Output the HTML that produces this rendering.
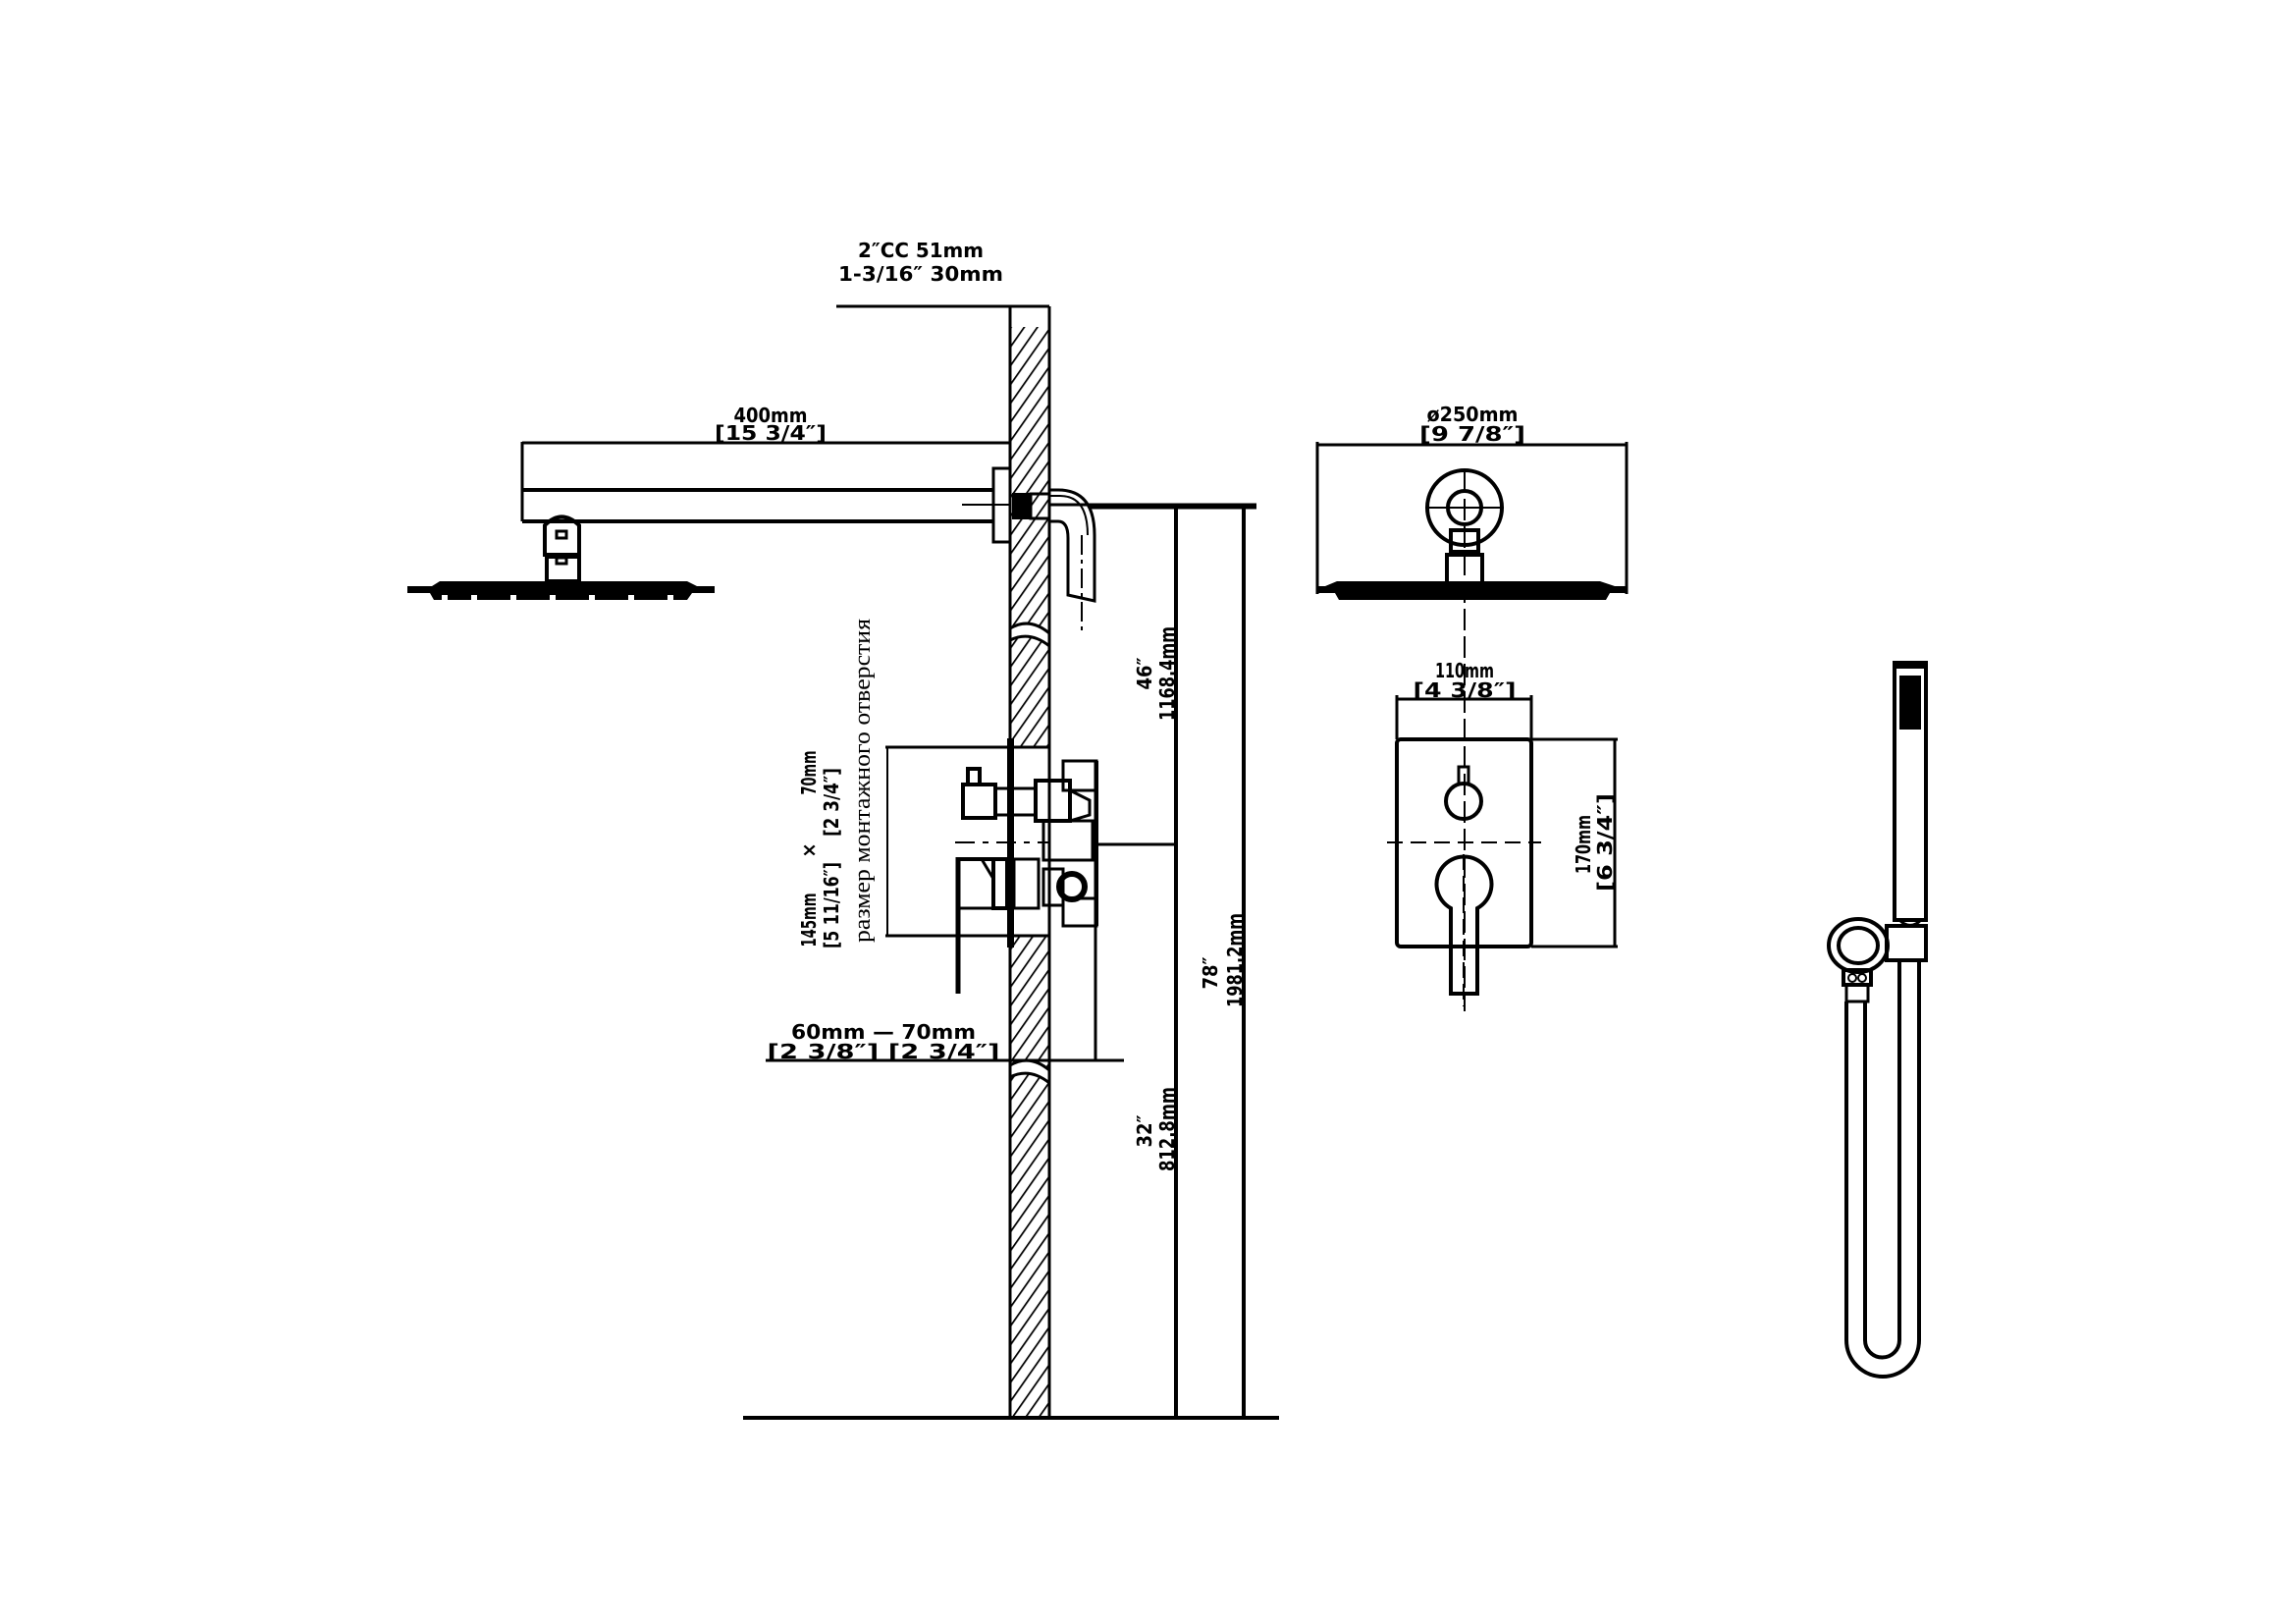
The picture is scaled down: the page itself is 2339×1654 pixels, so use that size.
<!DOCTYPE html>
<html><head><meta charset="utf-8"><style>
html,body{margin:0;padding:0;background:#fff}
svg{display:block}
text{font-family:"DejaVu Sans Condensed","Liberation Sans",sans-serif;font-weight:bold;fill:#000}
.s{stroke:#000;fill:none}
</style></head><body>
<svg width="2339" height="1654" viewBox="0 0 2339 1654" xmlns="http://www.w3.org/2000/svg">
<defs>
<pattern id="h" patternUnits="userSpaceOnUse" width="11" height="11" patternTransform="rotate(35)">
<rect width="11" height="11" fill="#fff"/><line x1="0" y1="0" x2="0" y2="11" stroke="#000" stroke-width="3.5"/>
</pattern>
</defs>
<g stroke-linecap="butt">
<!-- wall -->
<rect x="1029" y="333" width="40" height="1111" fill="url(#h)"/>
<path d="M1029 640 Q1049 628 1069 645 L1069 658 Q1049 642 1029 652 Z" fill="#fff"/>
<path d="M1029 1085 Q1049 1073 1069 1090 L1069 1103 Q1049 1087 1029 1097 Z" fill="#fff"/>
<rect x="1031" y="761" width="38" height="192" fill="#fff"/>
<line class="s" x1="1029" y1="312" x2="1029" y2="1444" stroke-width="3"/>
<line class="s" x1="1069" y1="312" x2="1069" y2="1444" stroke-width="3"/>
<path class="s" d="M1029 640 Q1049 628 1069 645 M1029 652 Q1049 642 1069 658 M1029 1085 Q1049 1073 1069 1090 M1029 1097 Q1049 1087 1069 1103" stroke-width="3"/>
<line class="s" x1="852" y1="312" x2="1069" y2="312" stroke-width="3"/>
<text x="938" y="262" font-size="20" text-anchor="middle" textLength="128" lengthAdjust="spacingAndGlyphs">2″CC 51mm</text>
<text x="938" y="286" font-size="20" text-anchor="middle" textLength="168" lengthAdjust="spacingAndGlyphs">1-3/16″ 30mm</text>
<!-- floor -->
<line class="s" x1="757" y1="1444" x2="1303" y2="1444" stroke-width="4"/>
<!-- arm -->
<line class="s" x1="532" y1="450" x2="532" y2="531" stroke-width="3"/>
<line class="s" x1="532" y1="451" x2="1029" y2="451" stroke-width="3"/>
<text x="785" y="430" font-size="20" text-anchor="middle" textLength="75" lengthAdjust="spacingAndGlyphs">400mm</text>
<text x="785" y="448" font-size="20" text-anchor="middle" textLength="114" lengthAdjust="spacingAndGlyphs">[15 3/4″]</text>
<path class="s" d="M532 499 H1012 M532 531 H1012" stroke-width="4"/>
<path class="s" d="M980 514 H1029" stroke-width="2"/>
<rect class="s" x="1012" y="477" width="17" height="75" stroke-width="3"/>
<rect x="1031" y="502" width="19" height="27" fill="#000"/>
<rect class="s" x="1050" y="503" width="19" height="25" stroke-width="3" fill="#fff"/>
<path class="s" d="M1069 499 H1078 Q1115 499 1115 545 V612 L1088 606 V548 Q1088 531 1078 531 H1069" stroke-width="3" fill="#fff"/>
<path class="s" d="M1069 505 H1080 Q1108 505 1108 545" stroke-width="2"/>
<line class="s" x1="1102" y1="545" x2="1102" y2="645" stroke-width="2" stroke-dasharray="20,5,4,5"/>
<line class="s" x1="1069" y1="514" x2="1280" y2="514" stroke-width="3"/>
<!-- shower head -->
<path d="M555 535 Q572 518 590 535 V565 H555 Z" class="s" stroke-width="4" fill="#fff"/>
<rect class="s" x="567" y="541" width="10" height="7" stroke-width="3"/>
<rect class="s" x="557" y="567" width="33" height="25" stroke-width="4"/>
<rect class="s" x="567" y="568" width="10" height="6" stroke-width="3"/>
<path d="M415 597 H440 L448 592 H700 L710 597 H728 V604 H415 Z" fill="#000"/>
<path d="M438 604 H705 L700 611 H442 Z" fill="#000"/>
<g fill="#fff"><rect x="450" y="606" width="6" height="6"/><rect x="480" y="606" width="6" height="6"/><rect x="520" y="606" width="6" height="6"/><rect x="560" y="606" width="6" height="6"/><rect x="600" y="606" width="6" height="6"/><rect x="640" y="606" width="6" height="6"/><rect x="680" y="606" width="6" height="6"/></g>
<!-- height dims -->
<line class="s" x1="1198" y1="517" x2="1198" y2="1444" stroke-width="4"/>
<line class="s" x1="1267" y1="517" x2="1267" y2="1444" stroke-width="4"/>
<line class="s" x1="1110" y1="517" x2="1280" y2="517" stroke-width="3"/>
<line class="s" x1="1117" y1="860" x2="1200" y2="860" stroke-width="3"/>
<line class="s" x1="1116" y1="775" x2="1116" y2="1080" stroke-width="3"/>
<text font-size="20" text-anchor="middle" transform="translate(1173,686) rotate(-90)">46″</text>
<text font-size="20" text-anchor="middle" transform="translate(1196,686) rotate(-90)" textLength="96" lengthAdjust="spacingAndGlyphs">1168.4mm</text>
<text font-size="20" text-anchor="middle" transform="translate(1173,1152) rotate(-90)">32″</text>
<text font-size="20" text-anchor="middle" transform="translate(1196,1150) rotate(-90)" textLength="86" lengthAdjust="spacingAndGlyphs">812.8mm</text>
<text font-size="20" text-anchor="middle" transform="translate(1240,991) rotate(-90)">78″</text>
<text font-size="20" text-anchor="middle" transform="translate(1265,978) rotate(-90)" textLength="96" lengthAdjust="spacingAndGlyphs">1981.2mm</text>
<!-- valve side -->
<line class="s" x1="902" y1="761" x2="1069" y2="761" stroke-width="3"/>
<line class="s" x1="902" y1="953" x2="1069" y2="953" stroke-width="3"/>
<line class="s" x1="904" y1="761" x2="904" y2="953" stroke-width="2"/>
<rect x="1026" y="752" width="7" height="213" fill="#000"/>
<rect class="s" x="981" y="799" width="33" height="34" stroke-width="4"/>
<rect class="s" x="986" y="783" width="12" height="16" stroke-width="4"/>
<rect class="s" x="1014" y="803" width="41" height="27" stroke-width="3"/>
<rect class="s" x="1055" y="795" width="35" height="41" stroke-width="4"/>
<rect class="s" x="1083" y="775" width="34" height="30" stroke-width="3"/>
<path class="s" d="M1090 805 L1110 815 V830 L1090 836" stroke-width="3"/>
<rect class="s" x="1063" y="836" width="50" height="40" stroke-width="3"/>
<rect class="s" x="1063" y="885" width="20" height="37" stroke-width="3"/>
<rect class="s" x="1083" y="915" width="34" height="28" stroke-width="3"/>
<line class="s" x1="1117" y1="775" x2="1117" y2="943" stroke-width="4"/>
<circle class="s" cx="1092" cy="903" r="13" stroke-width="6"/>
<line class="s" x1="973" y1="858" x2="1070" y2="858" stroke-width="2" stroke-dasharray="20,8,6,8"/>
<line class="s" x1="976" y1="873" x2="976" y2="1012" stroke-width="5"/>
<line class="s" x1="974" y1="875" x2="1026" y2="875" stroke-width="4"/>
<path class="s" d="M1000 875 L1012 895 V925 H976" stroke-width="3"/>
<rect class="s" x="1012" y="875" width="14" height="50" stroke-width="4"/>
<rect class="s" x="1033" y="875" width="25" height="50" stroke-width="3"/>
<line class="s" x1="780" y1="1080" x2="1145" y2="1080" stroke-width="3"/>
<text x="900" y="1058" font-size="20" text-anchor="middle" textLength="188" lengthAdjust="spacingAndGlyphs">60mm — 70mm</text>
<text x="900" y="1078" font-size="20" text-anchor="middle" textLength="237" lengthAdjust="spacingAndGlyphs">[2 3/8″] [2 3/4″]</text>
<text font-size="20" text-anchor="middle" transform="translate(831,937) rotate(-90)" textLength="55" lengthAdjust="spacingAndGlyphs">145mm</text>
<text font-size="20" text-anchor="middle" transform="translate(831,787) rotate(-90)" textLength="45" lengthAdjust="spacingAndGlyphs">70mm</text>
<text font-size="20" text-anchor="middle" transform="translate(831,866) rotate(-90)">×</text>
<text font-size="20" text-anchor="middle" transform="translate(854,922) rotate(-90)" textLength="88" lengthAdjust="spacingAndGlyphs">[5 11/16″]</text>
<text font-size="20" text-anchor="middle" transform="translate(854,817) rotate(-90)" textLength="70" lengthAdjust="spacingAndGlyphs">[2 3/4″]</text>
<text font-size="24" text-anchor="middle" style="font-family:'Liberation Serif',serif;font-weight:normal" transform="translate(886,795) rotate(-90)" textLength="330" lengthAdjust="spacingAndGlyphs">размер монтажного отверстия</text>
<!-- top view -->
<line class="s" x1="1342" y1="450" x2="1342" y2="605" stroke-width="3"/>
<line class="s" x1="1657" y1="450" x2="1657" y2="605" stroke-width="3"/>
<line class="s" x1="1342" y1="453" x2="1657" y2="453" stroke-width="3"/>
<text x="1500" y="429" font-size="20" text-anchor="middle" textLength="93" lengthAdjust="spacingAndGlyphs">ø250mm</text>
<text x="1500" y="449" font-size="20" text-anchor="middle" textLength="108" lengthAdjust="spacingAndGlyphs">[9 7/8″]</text>
<circle class="s" cx="1492" cy="517" r="38" stroke-width="4"/>
<circle class="s" cx="1492" cy="517" r="17" stroke-width="4"/>
<line class="s" x1="1452" y1="517" x2="1532" y2="517" stroke-width="2"/>
<rect class="s" x="1478" y="540" width="28" height="22" stroke-width="4" fill="#fff"/>
<rect class="s" x="1474" y="565" width="36" height="30" stroke-width="4" fill="#fff"/>
<path d="M1342 597 H1350 L1362 592 H1630 L1645 597 H1657 V604 H1342 Z" fill="#000"/>
<path d="M1360 604 H1640 L1636 611 H1364 Z" fill="#000"/>
<line class="s" x1="1492" y1="480" x2="1492" y2="1030" stroke-width="2" stroke-dasharray="22,6"/>
<!-- valve front -->
<rect class="s" x="1423" y="753" width="137" height="211" rx="4" stroke-width="4"/>
<line class="s" x1="1423" y1="708" x2="1423" y2="753" stroke-width="3"/>
<line class="s" x1="1560" y1="708" x2="1560" y2="753" stroke-width="3"/>
<line class="s" x1="1423" y1="712" x2="1560" y2="712" stroke-width="3"/>
<text x="1492" y="690" font-size="20" text-anchor="middle" textLength="60" lengthAdjust="spacingAndGlyphs">110mm</text>
<text x="1492" y="710" font-size="20" text-anchor="middle" textLength="105" lengthAdjust="spacingAndGlyphs">[4 3/8″]</text>
<line class="s" x1="1560" y1="753" x2="1648" y2="753" stroke-width="3"/>
<line class="s" x1="1560" y1="964" x2="1648" y2="964" stroke-width="3"/>
<line class="s" x1="1645" y1="753" x2="1645" y2="964" stroke-width="3"/>
<text font-size="20" text-anchor="middle" transform="translate(1620,860) rotate(-90)" textLength="60" lengthAdjust="spacingAndGlyphs">170mm</text>
<text font-size="20" text-anchor="middle" transform="translate(1642,858) rotate(-90)" textLength="100" lengthAdjust="spacingAndGlyphs">[6 3/4″]</text>
<circle class="s" cx="1491" cy="816" r="18" stroke-width="4"/>
<rect class="s" x="1486" y="781" width="10" height="17" stroke-width="3"/>
<line class="s" x1="1413" y1="858" x2="1570" y2="858" stroke-width="2" stroke-dasharray="16,8"/>
<path class="s" d="M1478 1012 V925 A28 28 0 1 1 1505 925 V1012 Z" stroke-width="4" fill="#fff"/>
<line class="s" x1="1491" y1="870" x2="1491" y2="1025" stroke-width="2" stroke-dasharray="16,6"/>
<!-- hand shower -->
<rect class="s" x="1930" y="675" width="32" height="262" stroke-width="4"/>
<rect x="1930" y="675" width="32" height="6" fill="#000"/>
<rect x="1935" y="688" width="22" height="55" fill="#000"/>
<path d="M1935 937 Q1946 948 1957 937" class="s" stroke-width="3"/>
<path class="s" d="M1922 943 H1962 V978 H1922 Z" stroke-width="4" fill="#fff"/>
<ellipse class="s" cx="1893" cy="963" rx="30" ry="27" stroke-width="4" fill="#fff"/>
<ellipse class="s" cx="1893" cy="963" rx="20" ry="18" stroke-width="4"/>
<rect class="s" x="1878" y="988" width="28" height="15" stroke-width="4" fill="#fff"/>
<circle cx="1887" cy="996" r="4" fill="#fff" stroke="#000" stroke-width="2"/><circle cx="1897" cy="996" r="4" fill="#fff" stroke="#000" stroke-width="2"/>
<rect class="s" x="1881" y="1003" width="22" height="17" stroke-width="3"/>
<path class="s" d="M1881 1020 V1365 A37 37 0 0 0 1955 1365 V978" stroke-width="4"/>
<path class="s" d="M1900 1020 V1365 A17 17 0 0 0 1935 1365 V978" stroke-width="4"/>
</g>
</svg>
</body></html>
